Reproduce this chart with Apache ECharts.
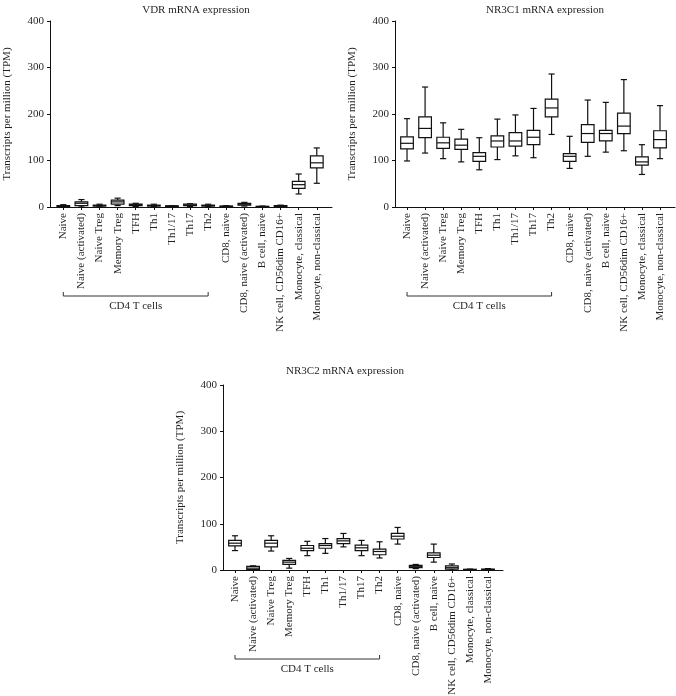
<!DOCTYPE html>
<html><head><meta charset="utf-8">
<script src="https://cdn.jsdelivr.net/npm/echarts@6/dist/echarts.min.js"></script>
<style>html,body{margin:0;padding:0;background:#fff}#c{width:676px;height:696px}</style>
</head><body><div id="c"></div>
<script>
const categories = ['Naive','Naive (activated)','Naive Treg','Memory Treg','TFH','Th1','Th1/17','Th17','Th2','CD8, naive','CD8, naive (activated)','B cell, naive','NK cell, CD56dim CD16+','Monocyte, classical','Monocyte, non-classical'];
const yTicks = [0, 100, 200, 300, 400];
const titles = ['VDR mRNA expression', 'NR3C1 mRNA expression', 'NR3C2 mRNA expression'];
const groupLabel = 'CD4 T cells';
const groupRange = [0, 8];
// [min, q1, median, q3, max]
const vdrStats = [
  [0,1,2,3,5],[0,3,8,11,16],[0.5,2,3,4,6],[3,6,11,15,19],[1,3,5,6,8],
  [1,2,3,4,6],[0,1,2,2.5,3],[1,3,4,6,7],[1,2,3,4,6],[0,1,1.5,2,3],
  [2,4,6,8,10],[0,0.5,1,1.5,2],[0,1,2,3,4],[28,40,48,55,71],[51,84,95,110,127]
];
const nr3c1Stats = [
  [99,125,137,151,190],[116,149,169,194,258],[104,126,138,150,181],[97,124,133,146,167],[80,98,109,117,149],
  [102,129,142,153,189],[110,131,142,160,198],[106,134,150,165,212],[156,194,213,232,286],[83,98,109,115,152],
  [109,139,158,177,230],[118,142,158,165,225],[121,158,174,202,274],[70,90,97,108,134],[104,127,145,164,218]
];
const nr3c2Stats = [
  [42,52,58,64,74],[0,1,4,8,9],[41,50,58,64,74],[4,12,17,21,25],[31,42,47,53,62],
  [36,47,53,57,68],[50,57,63,68,79],[31,42,48,54,64],[26,33,40,45,61],[56,67,73,79,92],
  [3,5,8,10,12],[17,27,32,37,56],[0,2,5,9,13],[0,0.5,1,1.5,2],[0,0.5,1,2,3]
];

const FONT = '"Liberation Serif", "DejaVu Serif", serif';
const TXT = '#231f20';
const allStats = [vdrStats, nr3c1Stats, nr3c2Stats];
const grids = [
  {left: 50, top: 21, width: 282, height: 186, containLabel: false, outerBoundsMode: 'none'},
  {left: 395, top: 21, width: 280, height: 186, containLabel: false, outerBoundsMode: 'none'},
  {left: 223, top: 385, width: 280, height: 185, containLabel: false, outerBoundsMode: 'none'}
];
const xRanges = [[-0.735, 14.84], [-0.665, 14.83], [-0.664, 14.83]];
const titlePos = [[191, 0], [540, 0], [340, 361]];
const idx = categories.map((_, i) => i);

function boxRender(params, api) {
  const x = api.value(0);
  const pMin = api.coord([x, api.value(1)]);
  const pQ1 = api.coord([x, api.value(2)]);
  const pMed = api.coord([x, api.value(3)]);
  const pQ3 = api.coord([x, api.value(4)]);
  const pMax = api.coord([x, api.value(5)]);
  const band = api.size([1, 0])[0];
  const bw = band * 0.7, cw = band * 0.34;
  const cx = pMed[0];
  const st = {stroke: '#111', lineWidth: 1.2, fill: null};
  return {type: 'group', children: [
    {type: 'line', shape: {x1: cx, y1: pMax[1], x2: cx, y2: pQ3[1]}, style: st},
    {type: 'line', shape: {x1: cx, y1: pQ1[1], x2: cx, y2: pMin[1]}, style: st},
    {type: 'line', shape: {x1: cx - cw/2, y1: pMax[1], x2: cx + cw/2, y2: pMax[1]}, style: st},
    {type: 'line', shape: {x1: cx - cw/2, y1: pMin[1], x2: cx + cw/2, y2: pMin[1]}, style: st},
    {type: 'rect', shape: {x: cx - bw/2, y: pQ3[1], width: bw, height: pQ1[1] - pQ3[1]}, style: {stroke: '#111', lineWidth: 1.2, fill: '#fff'}},
    {type: 'line', shape: {x1: cx - bw/2, y1: pMed[1], x2: cx + bw/2, y2: pMed[1]}, style: st}
  ]};
}

function bracketRender(params, api) {
  const p0 = api.coord([api.value(0), 0]);
  const p1 = api.coord([api.value(2), 0]);
  const y = p0[1] + 89;
  const st = {stroke: '#333', lineWidth: 1};
  return {type: 'group', children: [
    {type: 'line', shape: {x1: p0[0], y1: y, x2: p1[0], y2: y}, style: st},
    {type: 'line', shape: {x1: p0[0], y1: y, x2: p0[0], y2: y - 4}, style: st},
    {type: 'line', shape: {x1: p1[0], y1: y, x2: p1[0], y2: y - 4}, style: st},
    {type: 'text', style: {x: (p0[0] + p1[0]) / 2, y: y + 10, text: groupLabel, align: 'center', verticalAlign: 'middle', font: '11px ' + FONT, fill: TXT}}
  ]};
}

const option = {
  animation: false,
  backgroundColor: '#fff',
  title: titles.map((t, i) => ({text: t, left: titlePos[i][0], top: titlePos[i][1], textAlign: 'center',
    textStyle: {fontFamily: FONT, fontSize: 11, fontWeight: 'normal', color: TXT}})),
  grid: grids,
  xAxis: grids.map((g, i) => ({
    type: 'value', gridIndex: i, min: xRanges[i][0], max: xRanges[i][1],
    splitLine: {show: false},
    axisLine: {show: true, onZero: false, lineStyle: {color: '#111', width: 1}},
    axisTick: {show: true, customValues: idx, length: 3, lineStyle: {color: '#111'}},
    axisLabel: {show: true, customValues: idx, rotate: 90, margin: 6, formatter: v => categories[Math.round(v)],
      fontFamily: FONT, fontSize: 11, color: TXT}
  })),
  yAxis: grids.map((g, i) => ({
    type: 'value', gridIndex: i, min: 0, max: 400, interval: 100,
    name: 'Transcripts per million (TPM)', nameLocation: 'middle', nameGap: 37,
    nameTextStyle: {fontFamily: FONT, fontSize: 11, color: TXT},
    splitLine: {show: false},
    axisLine: {show: true, onZero: false, lineStyle: {color: '#111', width: 1}},
    axisTick: {show: true, length: 3, lineStyle: {color: '#111'}},
    axisLabel: {margin: 6, fontFamily: FONT, fontSize: 11, color: TXT,
      formatter: v => yTicks.includes(v) ? String(v) : ''}
  })),
  series: [].concat(...allStats.map((stats, i) => [
    {type: 'custom', xAxisIndex: i, yAxisIndex: i, renderItem: boxRender, silent: true,
      encode: {x: 0, y: [1,2,3,4,5]},
      data: stats.map((s, k) => [k].concat(s))},
    {type: 'custom', xAxisIndex: i, yAxisIndex: i, renderItem: bracketRender, silent: true, clip: false,
      encode: {x: [0, 2], y: 1},
      data: [[groupRange[0], 0, groupRange[1]]]}
  ]))
};
const chart = echarts.init(document.getElementById('c'), null, {renderer: 'canvas'});
chart.setOption(option);
</script></body></html>
